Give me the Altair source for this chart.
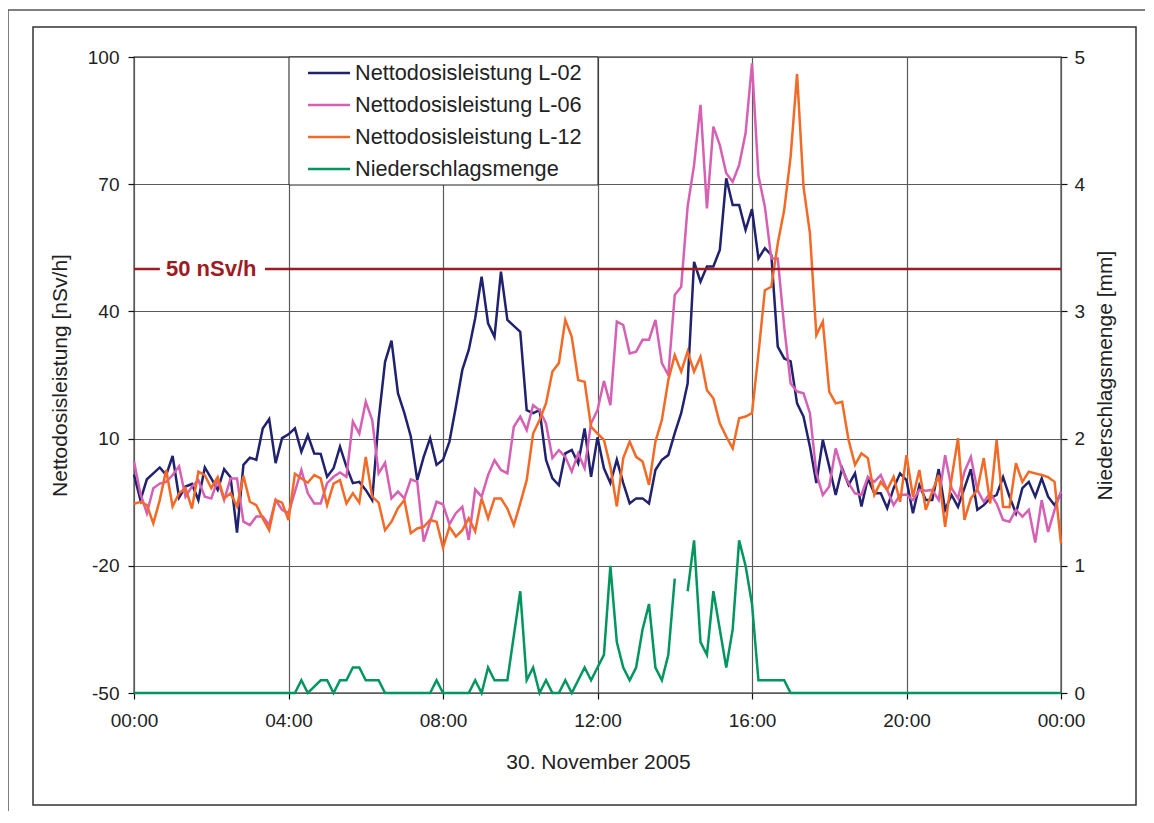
import altair as alt
import pandas as pd

# ---- data (10-minute values, 00:00 ... 24:00) ----
names = ["Nettodosisleistung L-02", "Nettodosisleistung L-06",
         "Nettodosisleistung L-12", "Niederschlagsmenge"]
colors = ["#20216F", "#D660B4", "#F26A25", "#00965E"]

hours = [i / 6 for i in range(145)]

l02 = [1.5, -4.5, 0.4, 1.8, 3.2, 1.4, 5.9, -3.9, -1.3, -0.7,
       -4.5, 3.2, 0.6, -2.1, 2.8, 0.9, -12.2, 3.8, 5.5, 5.0,
       12.4, 14.6, 4.2, 10.1, 11.0, 12.4, 6.9, 10.8, 6.5, 6.4,
       1.0, 3.0, 8.1, 3.4, -0.5, -0.2, -2.1, -4.5, 14.4, 28.1,
       33.1, 20.7, 16.0, 10.5, 0.2, 5.7, 10.1, 3.8, 5.0, 9.3,
       17.5, 26.2, 30.9, 38.4, 48.2, 37.2, 34.0, 49.4, 38.0, 36.6,
       35.2, 16.7, 16.0, 16.7, 5.0, 0.6, -1.0, 6.5, 7.3, 4.2,
       12.4, 1.0, 10.3, 3.0, -0.5, 5.0, -0.5, -5.3, -4.1, -4.1,
       -5.3, 2.6, 5.0, 6.1, 11.3, 16.0, 23.0, 51.7, 47.0, 50.6,
       50.6, 54.5, 71.4, 65.1, 65.1, 59.2, 64.1, 52.5, 54.9, 53.3,
       31.7, 28.9, 28.2, 18.3, 15.2, 8.1, -0.5, 9.7, 3.4, -3.3,
       3.0, -0.9, 1.8, -6.0, 0.6, -2.9, -2.9, -6.4, -1.7, 1.8,
       0.2, -7.6, -1.0, -4.5, -4.5, 2.8, -6.8, -3.3, -6.1, -1.7,
       2.8, -6.8, -5.7, -4.1, -3.3, 0.9, -3.7, -7.6, -1.7, -0.2,
       -3.7, 0.6, -3.7, -5.7, -2.9]

l06 = [4.6, -3.0, -7.6, -1.7, -0.6, -0.2, 1.4, 3.5, -3.7, -1.3,
       0.2, -3.7, -4.1, 0.2, -4.5, 0.6, 0.6, -9.6, -10.4, -8.4,
       -8.4, -10.4, -4.5, -6.8, -7.6, -2.5, 2.6, -2.9, -5.3, -5.3,
       -0.5, 1.0, 2.0, 1.0, 14.0, 11.2, 18.7, 14.4, 1.8, 4.3,
       -4.1, -2.5, -4.1, 0.4, -0.2, -14.3, -9.6, -4.9, -5.5, -10.2,
       -7.6, -6.1, -13.9, -2.0, -3.7, 1.4, 4.9, 2.6, 1.8, 12.8,
       15.2, 12.0, 17.9, 16.7, 13.6, 5.4, 7.3, 5.7, 2.2, 6.5,
       3.0, 13.6, 16.7, 23.6, 17.9, 37.6, 36.8, 30.1, 30.5, 33.3,
       33.3, 38.0, 27.8, 25.0, 43.9, 45.8, 64.7, 74.5, 88.7, 64.3,
       83.6, 79.2, 72.6, 70.6, 74.5, 82.0, 98.5, 72.0, 64.7, 52.5,
       52.5, 36.4, 23.0, 21.1, 20.7, 16.0, 1.8, -3.3, -1.3, 7.7,
       2.6, -0.5, -2.9, -3.3, 1.0, -0.2, 1.4, -2.1, -5.7, -3.3,
       -3.2, -4.5, -2.1, -2.3, -2.1, -4.5, 6.1, -1.7, -4.1, 2.2,
       5.7, -2.1, -4.9, -2.9, -5.3, -9.2, -9.6, -6.8, -8.4, -6.8,
       -14.5, -4.5, -12.0, -6.8, -2.5]

l12 = [-5.4, -4.9, -5.7, -10.0, -4.5, 2.6, -6.0, -2.9, -1.7, -6.5,
       2.2, 1.4, -1.7, 0.9, -4.1, -2.9, -6.0, 1.2, -4.9, -5.7,
       -8.8, -11.6, -4.5, -5.1, -9.2, 1.7, 0.6, -0.4, 1.4, 0.6,
       -5.7, -0.6, 0.2, -5.3, -2.9, -5.1, 5.7, -3.7, -5.1, -11.6,
       -9.6, -6.4, -4.5, -12.3, -11.2, -10.8, -9.2, -9.6, -15.7, -10.8,
       -13.1, -11.6, -8.8, -11.9, -4.1, -8.8, -4.1, -4.1, -6.5, -10.4,
       -5.3, 0.2, 11.2, 14.4, 18.3, 25.8, 27.8, 38.0, 34.0, 23.8,
       23.4, 12.8, 11.2, 9.7, 3.4, -6.0, 5.4, 9.3, 5.7, 4.6,
       -0.9, 9.3, 14.4, 23.8, 29.7, 25.8, 30.5, 25.8, 29.3, 21.4,
       19.5, 13.6, 10.5, 7.7, 14.8, 15.2, 16.0, 30.0, 45.0, 45.8,
       56.0, 63.9, 76.5, 96.0, 69.4, 58.4, 34.4, 37.6, 21.1, 18.3,
       18.7, 9.7, 3.8, 6.5, 5.4, -3.3, -0.2, -2.1, 1.0, -4.9,
       6.1, -3.7, 2.6, -6.8, -2.5, 1.4, -10.8, 0.6, 10.1, -9.2,
       -4.1, -2.1, 5.4, -5.3, 9.7, -6.1, -6.2, 4.2, -0.2, 2.2,
       1.8, 1.4, 0.9, -0.2, -14.7]

precip = [0, 0, 0, 0, 0, 0, 0, 0, 0, 0,
          0, 0, 0, 0, 0, 0, 0, 0, 0, 0,
          0, 0, 0, 0, 0, 0, 0.1, 0, 0.05, 0.1,
          0.1, 0, 0.1, 0.1, 0.2, 0.2, 0.1, 0.1, 0.1, 0,
          0, 0, 0, 0, 0, 0, 0, 0.1, 0, 0,
          0, 0, 0, 0.1, 0, 0.2, 0.1, 0.1, 0.1, 0.45,
          0.8, 0.1, 0.2, 0, 0.1, 0, 0, 0.1, 0, 0.1,
          0.2, 0.1, 0.2, 0.3, 1.0, 0.4, 0.2, 0.1, 0.2, 0.5,
          0.7, 0.2, 0.1, 0.3, 0.9, None, 0.8, 1.2, 0.4, 0.3,
          0.8, 0.5, 0.2, 0.5, 1.2, 1.0, 0.7, 0.1, 0.1, 0.1,
          0.1, 0.1, 0, 0, 0, 0, 0, 0, 0, 0,
          0, 0, 0, 0, 0, 0, 0, 0, 0, 0,
          0, 0, 0, 0, 0, 0, 0, 0, 0, 0,
          0, 0, 0, 0, 0, 0, 0, 0, 0, 0,
          0, 0, 0, 0, 0]

threshold = 50
threshold_label = "50 nSv/h"

x_ticks = [0, 4, 8, 12, 16, 20, 24]
left_ticks = [-50, -20, 10, 40, 70, 100]
right_ticks = [0, 1, 2, 3, 4, 5]

# ---- tables ----
dose_df = pd.concat([
    pd.DataFrame({"hour": hours, "value": vals, "series": name})
    for name, vals in zip(names[:3], [l02, l06, l12])
], ignore_index=True)
rain_df = pd.DataFrame({"hour": hours,
                        "value": [float("nan") if v is None else v for v in precip],
                        "series": names[3]})
label_df = pd.DataFrame({"t": [threshold_label], "y": [threshold],
                         "y0": [threshold - 3], "y1": [threshold + 3],
                         "x": [2.0], "x0": [0.67], "x1": [3.39]})

FONT = "Liberation Sans"
TXT = "#222222"
GRID = "#5a5a5a"
W, H = 927, 636

color_enc = alt.Color(
    "series:N",
    scale=alt.Scale(domain=names, range=colors),
    legend=alt.Legend(
        title=None, orient="none", legendX=183, legendY=4,
        symbolType="M-2,0H2", symbolSize=441, symbolStrokeWidth=2.5,
        symbolFillColor="transparent",
        labelFont=FONT, labelFontSize=21.7, labelColor=TXT, labelOffset=14,
        rowPadding=8, padding=0, labelLimit=400,
    ),
)

x_scale = alt.Scale(domain=[0, 24], nice=False, zero=False)
x_axis = alt.Axis(
    values=x_ticks,
    labelExpr="(datum.value % 24 < 10 ? '0' : '') + (datum.value % 24) + ':00'",
    title="30. November 2005", titleX=464, titleY=69,
    titleAlign="center", titleBaseline="middle",
    grid=True, gridColor=GRID, gridWidth=1.2,
    domain=False, tickColor="#111", tickSize=6, tickWidth=1.2,
    labelPadding=12, labelFlush=False,
)

left_scale = alt.Scale(domain=[-50, 100], nice=False, zero=False)
left_axis = alt.Axis(
    values=left_ticks, labelExpr="'' + datum.value",
    title="Nettodosisleistung [nSv/h]",
    titleAngle=270, titleX=-74, titleY=318, titleAlign="center", titleBaseline="middle",
    grid=True, gridColor=GRID, gridWidth=1.2,
    domain=False, tickColor="#111", tickSize=6, tickWidth=1.2, labelPadding=9,
)

lines = alt.Chart(dose_df).mark_line(strokeWidth=2.5).encode(
    x=alt.X("hour:Q", scale=x_scale, axis=x_axis),
    y=alt.Y("value:Q", scale=left_scale, axis=left_axis),
    color=color_enc,
)

rule = alt.Chart(label_df).mark_rule(color="#9E1B22", strokeWidth=2.5).encode(
    y=alt.Y("y:Q", scale=left_scale, axis=left_axis)
)

label_bg = alt.Chart(label_df).mark_rect(color="white").encode(
    x=alt.X("x0:Q", scale=x_scale, axis=x_axis), x2="x1:Q",
    y=alt.Y("y0:Q", scale=left_scale, axis=left_axis), y2="y1:Q",
)
label = alt.Chart(label_df).mark_text(
    font=FONT, fontSize=22, fontWeight="bold", color="#9E1B22",
    align="center", baseline="middle",
).encode(
    x=alt.X("x:Q", scale=x_scale, axis=x_axis),
    y=alt.Y("y:Q", scale=left_scale, axis=left_axis),
    text="t:N",
)

one = pd.DataFrame({"a": [0]})
legend_box = alt.Chart(one).mark_rect(fill="white", stroke="#222", strokeWidth=1).encode(
    x=alt.value(155), x2=alt.value(464), y=alt.value(0), y2=alt.value(128)
)
inner_frame = alt.Chart(one).mark_rect(filled=False, stroke="#333", strokeWidth=1.5).encode(
    x=alt.value(-101), x2=alt.value(1002), y=alt.value(-30), y2=alt.value(748)
)
outer_frame = alt.Chart(one).mark_rect(filled=False, stroke="#555", strokeWidth=1.5).encode(
    x=alt.value(-126), x2=alt.value(1060), y=alt.value(-47), y2=alt.value(800)
)

left_group = alt.layer(lines, rule, label_bg, label, legend_box, inner_frame, outer_frame)

rain = alt.Chart(rain_df).mark_line(strokeWidth=2.5, invalid="break-paths-show-domains").encode(
    x=alt.X("hour:Q", scale=x_scale, axis=x_axis),
    y=alt.Y("value:Q", scale=alt.Scale(domain=[0, 5], nice=False, zero=False),
            axis=alt.Axis(values=right_ticks, orient="right", title="Niederschlagsmenge [mm]",
                          titleAngle=270, titleX=44, titleY=318, titleAlign="center",
                          titleBaseline="middle", grid=False, domain=False,
                          tickColor="#111", tickSize=6, tickWidth=1.2, labelPadding=7)),
    color=color_enc,
)

chart = alt.layer(left_group, rain).resolve_scale(y="independent").properties(
    width=W, height=H,
    autosize=alt.AutoSizeParams(type="none"),
    padding={"left": 126, "top": 49, "right": 84, "bottom": 118},
).configure_view(
    stroke="#111", strokeWidth=1.3
).configure_axis(
    labelFont=FONT, labelFontSize=19, labelColor=TXT,
    titleFont=FONT, titleFontSize=21, titleFontWeight="normal", titleColor=TXT,
)

chart.save("out.html", embed_options={"renderer": "svg", "actions": False})
